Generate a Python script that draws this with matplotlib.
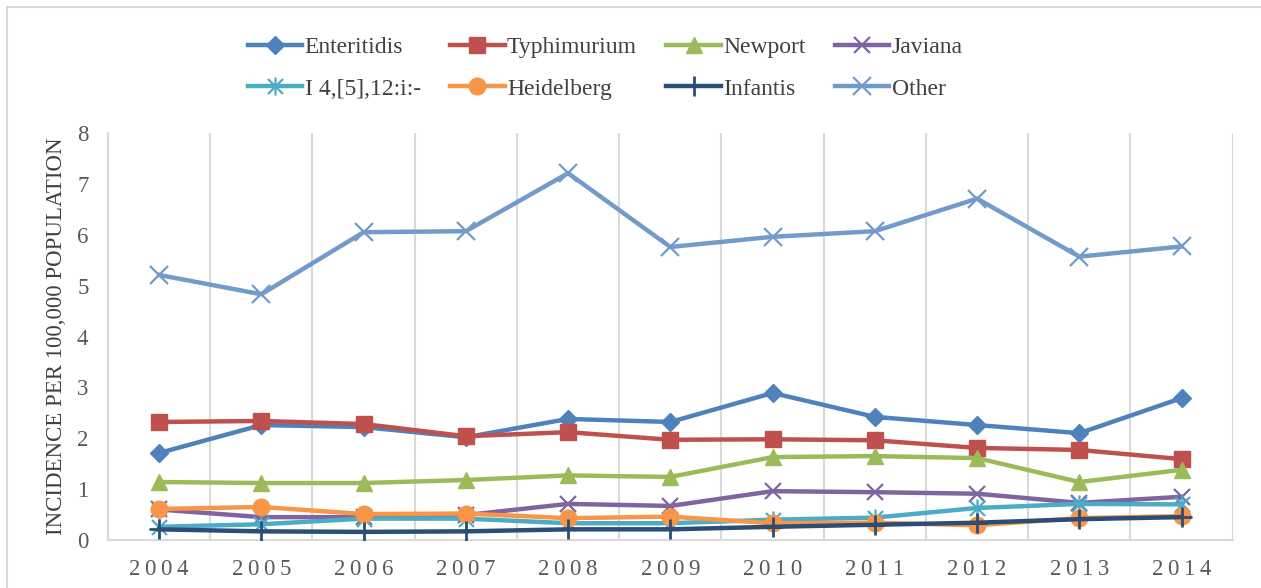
import matplotlib
matplotlib.use("Agg")
import matplotlib.pyplot as plt
from matplotlib.patches import Rectangle
from matplotlib.path import Path

years = [2004, 2005, 2006, 2007, 2008, 2009, 2010, 2011, 2012, 2013, 2014]

enteritidis = [1.71, 2.26, 2.22, 2.02, 2.38, 2.32, 2.89, 2.42, 2.26, 2.10, 2.79]
typhimurium = [2.32, 2.34, 2.28, 2.04, 2.12, 1.97, 1.98, 1.96, 1.81, 1.77, 1.59]
newport = [1.14, 1.12, 1.12, 1.18, 1.27, 1.24, 1.63, 1.65, 1.61, 1.14, 1.38]
javiana = [0.60, 0.45, 0.45, 0.49, 0.71, 0.67, 0.96, 0.94, 0.91, 0.73, 0.85]
i4512 = [0.26, 0.31, 0.42, 0.42, 0.33, 0.33, 0.40, 0.44, 0.63, 0.71, 0.70]
heidelberg = [0.61, 0.65, 0.51, 0.52, 0.43, 0.46, 0.33, 0.34, 0.29, 0.43, 0.47]
infantis = [0.21, 0.17, 0.16, 0.17, 0.21, 0.21, 0.26, 0.30, 0.34, 0.41, 0.45]
other = [5.21, 4.83, 6.05, 6.07, 7.21, 5.76, 5.96, 6.07, 6.71, 5.57, 5.77]

# excel-style star: x with a vertical bar
star = Path(
    [(-0.5, -0.5), (0.5, 0.5), (-0.5, 0.5), (0.5, -0.5), (0, -0.6), (0, 0.6)],
    [Path.MOVETO, Path.LINETO, Path.MOVETO, Path.LINETO, Path.MOVETO, Path.LINETO],
)

series = [
    ("Enteritidis", enteritidis, "#4F81BD", "D", 9.5, 1),
    ("Typhimurium", typhimurium, "#C0504D", "s", 12, 1),
    ("Newport", newport, "#9BBB59", "^", 12, 1),
    ("Javiana", javiana, "#8064A2", "x", 11, 1.6),
    ("I 4,[5],12:i:-", i4512, "#4BACC6", star, 13, 1.6),
    ("Heidelberg", heidelberg, "#F79646", "o", 12, 1),
    ("Infantis", infantis, "#2C4D75", "+", 15, 2),
    ("Other", other, "#729ACA", "x", 13, 1.6),
]

plt.rcParams["font.family"] = ["Liberation Serif", "DejaVu Serif"]

fig = plt.figure(figsize=(12.61, 5.88), dpi=100)
ax = fig.add_axes([0.0856, 0.0816, 0.892, 0.6922])

x = list(range(len(years)))
handles = {}
for name, vals, color, marker, ms, mew in series:
    (ln,) = ax.plot(x, vals, color=color, lw=3.2, marker=marker, ms=ms,
                    mew=mew, mec=color, mfc=color, label=name,
                    solid_joinstyle="round", zorder=3)
    handles[name] = ln

ax.set_xlim(-0.5, len(years) - 0.5)
ax.set_ylim(0, 8)
ax.set_yticks(range(9))
ax.set_xticks(x)
ax.set_xticklabels(["\u2009".join(str(y)) for y in years])
ax.set_xticks([i - 0.5 for i in range(len(years) + 1)], minor=True)
ax.grid(which="minor", axis="x", color="#D9D9D9", lw=1.5)
ax.tick_params(which="both", length=0, labelsize=16.5, colors="#595959")
ax.tick_params(axis="x", pad=14)
ax.tick_params(axis="y", pad=14)
for s in ["top", "right"]:
    ax.spines[s].set_visible(False)
for s in ["left", "bottom"]:
    ax.spines[s].set_color("#D9D9D9")
    ax.spines[s].set_linewidth(1.5)
ax.set_ylabel("INCIDENCE PER 100,000 POPULATION", fontsize=16.5, color="#404040", labelpad=7)

order = ["Enteritidis", "I 4,[5],12:i:-", "Typhimurium", "Heidelberg",
         "Newport", "Infantis", "Javiana", "Other"]
fig.legend([handles[n] for n in order], order, ncol=4, frameon=False,
           loc="center", bbox_to_anchor=(0.48, 0.884), fontsize=17,
           handlelength=2.3, columnspacing=1.25, handletextpad=0.1,
           labelspacing=0.84, labelcolor="#404040", borderpad=0.2)

fig.patches.append(Rectangle((0.0056, -0.02), 1.1, 1.008, transform=fig.transFigure,
                             fill=False, edgecolor="#D9D9D9", lw=1.5))

fig.savefig("out.png", dpi=100)
